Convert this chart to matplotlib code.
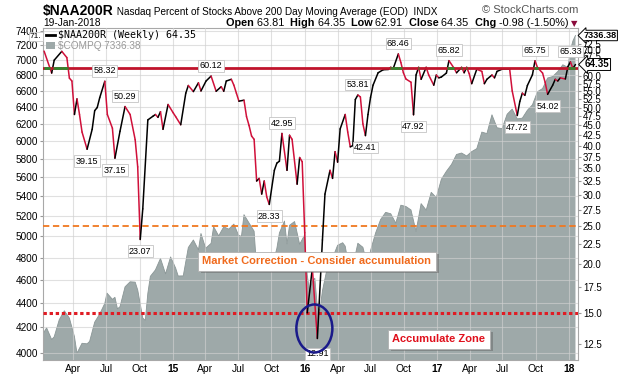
import numpy as np
import pandas as pd
import matplotlib
matplotlib.use('Agg')
import matplotlib.pyplot as plt
import matplotlib.dates as mdates
import matplotlib.patheffects as pe
import matplotlib.transforms as mtransforms
from matplotlib.ticker import FixedLocator, FixedFormatter, NullLocator
from matplotlib.lines import Line2D
from matplotlib.patches import Patch, Ellipse

plt.rcParams['font.family'] = ['Liberation Sans', 'DejaVu Sans']

# $NAA200R weekly closes, week number counted from the first bar (10-Jan-2014)
naa_start = '2014-01-10'
naa_week = [0, 3, 4, 7, 9, 10, 11, 12, 13, 14, 15, 17, 19, 20, 21, 22, 24, 25, 27, 28,
            30, 32, 34, 36, 37, 38, 39, 41, 43, 44, 45, 46, 47, 49, 51, 52, 54, 56, 57, 59,
            61, 62, 64, 66, 68, 70, 71, 72, 74, 75, 76, 77, 79, 80, 81, 82, 83, 84, 85, 86,
            87, 88, 89, 91, 92, 93, 94, 96, 97, 98, 100, 101, 102, 103, 104, 106, 108, 110, 111, 113,
            114, 115, 116, 117, 119, 120, 121, 122, 123, 124, 125, 126, 127, 128, 129, 130, 132, 134, 136, 137,
            138, 140, 141, 142, 143, 145, 146, 147, 148, 149, 151, 152, 154, 155, 156, 157, 159, 160, 162, 163,
            165, 166, 167, 168, 169, 171, 173, 174, 175, 177, 178, 179, 181, 184, 185, 187, 188, 189, 190, 191,
            193, 194, 195, 197, 198, 199, 201, 202, 203, 204, 206, 207, 208, 209, 210]
naa_value = [69.6, 61.2, 66.0, 69.5, 67.0, 59.4, 58.4, 48.0, 52.6, 48.0, 43.3, 39.15, 44.0, 49.1, 50.0, 53.0, 58.32, 48.0, 44.3, 37.15,
             43.5, 50.29, 48.0, 41.4, 35.3, 23.07, 27.6, 46.5, 47.5, 48.0, 47.2, 48.8, 44.0, 50.9, 48.5, 47.4, 45.2, 54.4, 56.9, 54.9,
             57.8, 55.1, 58.4, 60.12, 55.0, 56.5, 55.0, 58.4, 59.0, 57.0, 54.4, 51.9, 52.2, 47.4, 45.0, 42.3, 41.5, 32.5, 33.0, 30.1,
             32.5, 29.6, 28.33, 34.6, 36.1, 36.5, 42.95, 34.6, 42.5, 41.5, 31.9, 37.3, 36.4, 24.0, 15.0, 19.5, 12.91, 23.0, 30.1, 34.6,
             33.0, 38.6, 36.3, 44.1, 48.0, 43.3, 39.7, 40.0, 52.4, 53.81, 53.2, 45.4, 42.41, 48.0, 53.0, 57.0, 61.3, 62.4, 62.5, 63.3,
             62.9, 68.46, 65.1, 61.3, 59.1, 58.0, 47.92, 60.5, 63.3, 59.0, 63.3, 60.5, 57.0, 60.5, 59.5, 59.8, 61.2, 65.82, 63.0, 61.3,
             63.3, 61.3, 63.3, 61.0, 57.5, 62.6, 61.8, 57.5, 59.0, 60.5, 59.5, 61.8, 62.6, 62.6, 55.1, 47.72, 51.8, 54.4, 53.7, 56.9,
             60.6, 65.75, 63.2, 61.2, 58.0, 54.02, 57.0, 59.0, 58.4, 59.5, 59.1, 63.5, 65.33, 62.9, 64.35]

# swing highs / lows that carry a value tag
tagged_values = [58.32, 39.15, 37.15, 50.29, 23.07, 60.12, 42.95, 28.33, 12.91,
                 53.81, 42.41, 68.46, 47.92, 65.82, 47.72, 65.75, 54.02, 65.33]

# $COMPQ (Nasdaq Composite) closes
compq_date = ['2014-01-03', '2014-01-17', '2014-01-31', '2014-02-07', '2014-02-21', '2014-03-07', '2014-03-21',
              '2014-04-04', '2014-04-11', '2014-04-25', '2014-05-09', '2014-05-16', '2014-05-30', '2014-06-13',
              '2014-06-27', '2014-07-03', '2014-07-18', '2014-07-25', '2014-08-01', '2014-08-08', '2014-08-22',
              '2014-09-05', '2014-09-19', '2014-09-26', '2014-10-10', '2014-10-17', '2014-10-24', '2014-10-31',
              '2014-11-14', '2014-11-28', '2014-12-12', '2014-12-26',
              '2015-01-09', '2015-01-16', '2015-01-30', '2015-02-13', '2015-02-27', '2015-03-13', '2015-03-20',
              '2015-04-02', '2015-04-17', '2015-04-24', '2015-05-08', '2015-05-22', '2015-06-05', '2015-06-19',
              '2015-07-02', '2015-07-10', '2015-07-17', '2015-07-31', '2015-08-14', '2015-08-21', '2015-08-28',
              '2015-09-04', '2015-09-18', '2015-09-25', '2015-10-02', '2015-10-16', '2015-10-23', '2015-11-06',
              '2015-11-13', '2015-11-20', '2015-12-04', '2015-12-18', '2015-12-31',
              '2016-01-08', '2016-01-15', '2016-01-22', '2016-01-29', '2016-02-05', '2016-02-12', '2016-02-19',
              '2016-03-04', '2016-03-18', '2016-04-01', '2016-04-15', '2016-04-22', '2016-04-29', '2016-05-13',
              '2016-05-27', '2016-06-10', '2016-06-24', '2016-07-01', '2016-07-15', '2016-07-29', '2016-08-12',
              '2016-08-26', '2016-09-09', '2016-09-23', '2016-10-07', '2016-10-21', '2016-11-04', '2016-11-18',
              '2016-12-02', '2016-12-16', '2016-12-30',
              '2017-01-13', '2017-01-27', '2017-02-10', '2017-02-24', '2017-03-10', '2017-03-24', '2017-04-07',
              '2017-04-21', '2017-05-05', '2017-05-19', '2017-06-02', '2017-06-16', '2017-06-30', '2017-07-14',
              '2017-07-28', '2017-08-11', '2017-08-25', '2017-09-08', '2017-09-22', '2017-10-06', '2017-10-20',
              '2017-11-03', '2017-11-17', '2017-12-01', '2017-12-15', '2017-12-29',
              '2018-01-05', '2018-01-12', '2018-01-19']
compq_value = [4131, 4197, 4104, 4126, 4263, 4336, 4276,
               4127, 3999, 4075, 4071, 4090, 4243, 4310,
               4398, 4485, 4432, 4449, 4352, 4370, 4539,
               4583, 4580, 4512, 4276, 4258, 4483, 4631,
               4688, 4792, 4653, 4806,
               4704, 4634, 4635, 4893, 4964, 4871, 5026,
               4886, 4932, 5092, 5003, 5090, 5068, 5117,
               5009, 4998, 5210, 5128, 5048, 4706, 4828,
               4683, 4827, 4686, 4707, 4886, 5031, 5147,
               4927, 5105, 5142, 4923, 5007,
               4643, 4488, 4591, 4614, 4363, 4338, 4504,
               4717, 4796, 4914, 4938, 4906, 4775, 4718,
               4933, 4895, 4708, 4863, 5030, 5162, 5233,
               5219, 5126, 5305, 5292, 5257, 5046, 5321,
               5255, 5437, 5383,
               5574, 5660, 5734, 5845, 5861, 5828, 5877,
               5910, 6100, 6083, 6305, 6151, 6140, 6312,
               6374, 6256, 6265, 6360, 6426, 6590, 6629,
               6764, 6783, 6848, 6937, 6903,
               7136, 7261, 7336.38]

left_ticks = [4000, 4200, 4400, 4600, 4800, 5000, 5200, 5400, 5600, 5800, 6000,
              6200, 6400, 6600, 6800, 7000, 7200, 7400]
right_ticks = [12.5, 15.0, 17.5, 20.0, 22.5, 25.0, 27.5, 30.0, 32.5, 35.0, 37.5, 40.0,
               42.5, 45.0, 47.5, 50.0, 52.5, 55.0, 57.5, 60.0, 67.5, 70.0, 72.5]

ref_line = 63.0
correction_level = 25.0
accumulate_level = 15.0

bar_open, bar_high, bar_low, bar_close, bar_chg, bar_pct = 63.81, 64.35, 62.91, 64.35, -0.98, -1.50

area_color = '#9ea9a9'
down_color = '#d0103a'

naa_dates = pd.Timestamp(naa_start) + pd.to_timedelta(np.array(naa_week) * 7, unit='D')
compq_dates = pd.to_datetime(compq_date)

fig = plt.figure(figsize=(6.2, 3.76), dpi=100)
ax = fig.add_axes([43 / 620, 16 / 376, 535 / 620, 332 / 376])
ax2 = ax.twinx()

# Nasdaq mountain behind everything
ax.set_yscale('log')
ax.fill_between(compq_dates, 3000, compq_value, color=area_color, lw=0, zorder=1)
ax.plot(compq_dates, compq_value, color='#8a9696', lw=0.6, zorder=1.1)
ax.set_ylim(3947, 7442)
ax.set_xlim(pd.Timestamp('2014-01-07'), pd.Timestamp('2018-01-26'))
ax.yaxis.set_major_locator(FixedLocator(left_ticks))
ax.yaxis.set_major_formatter(FixedFormatter([str(t) for t in left_ticks]))
ax.yaxis.set_minor_locator(NullLocator())
ax.tick_params(axis='y', labelsize=7.2, length=2.5, color='#999999', pad=1)

quarters = pd.date_range('2014-04-01', '2018-01-01', freq='QS')
qlabels = [str(d.year % 100) if d.month == 1 else d.strftime('%b') for d in quarters]
ax.set_xticks(quarters)
ax.set_xticklabels(qlabels)
for lab, d in zip(ax.get_xticklabels(), quarters):
    if d.month == 1:
        lab.set_fontweight('bold')
ax.xaxis.set_minor_locator(NullLocator())
ax.tick_params(axis='x', labelsize=7.4, length=0, pad=3)

ax.grid(True, color='#d0d0d0', alpha=0.65, lw=0.8)
ax.set_axisbelow(False)
for s in ax.spines.values():
    s.set_color('#a8a8a8')
    s.set_linewidth(0.8)

# percent line on its own log scale
ax2.set_yscale('log')
ax2.set_ylim(11.38, 79.7)
ax2.yaxis.set_major_locator(FixedLocator(right_ticks))
ax2.yaxis.set_major_formatter(FixedFormatter([f'{t:.1f}' for t in right_ticks]))
ax2.yaxis.set_minor_locator(NullLocator())
ax2.tick_params(axis='y', labelsize=7.0, length=2.5, color='#999999', pad=1)
for s in ax2.spines.values():
    s.set_visible(False)

for i in range(len(naa_value) - 1):
    c = down_color if naa_value[i + 1] < naa_value[i] else 'black'
    ax2.plot(naa_dates[i:i + 2], naa_value[i:i + 2], color=c, lw=1.1, zorder=3,
             solid_capstyle='round')

ax2.axhline(correction_level, color='#f07820', lw=1.3, ls=(0, (3.5, 2)), zorder=2.5)
ax2.axhline(accumulate_level, color='#e01c24', lw=2.2, ls=(0, (1.1, 0.9)), zorder=2.5)

ax2.axhline(ref_line, color='#c0142c', lw=2.0, zorder=4)
tnum = mdates.date2num(naa_dates)
for i in range(len(naa_value) - 1):
    v0, v1 = naa_value[i], naa_value[i + 1]
    t0, t1 = tnum[i], tnum[i + 1]
    if v0 <= ref_line and v1 <= ref_line:
        continue
    a, b = t0, t1
    if v0 <= ref_line:
        a = t0 + (ref_line - v0) / (v1 - v0) * (t1 - t0)
    if v1 <= ref_line:
        b = t0 + (ref_line - v0) / (v1 - v0) * (t1 - t0)
    ax2.plot([a, b], [ref_line, ref_line], color='#2e8a2e', lw=2.0, zorder=4.1,
             solid_capstyle='butt')

# value tags on swing points
for val in tagged_values:
    i = naa_value.index(val)
    nb = [naa_value[j] for j in (i - 1, i + 1) if 0 <= j < len(naa_value)]
    above = val >= max(nb)
    off = 7.5 if above else -8.5
    if val == min(naa_value):
        off = -11
    ax2.annotate(f'{val:.2f}', xy=(naa_dates[i], val), xytext=(0, off),
                 textcoords='offset points', ha='center', va='center', fontsize=6.5,
                 bbox=dict(boxstyle='square,pad=0.15', fc='white', ec='#c4c4c4', lw=0.6),
                 zorder=6)

# last values at right edge
ax2.annotate(f'{naa_value[-1]:.2f}', xy=(1, naa_value[-1]), xycoords=('axes fraction', 'data'),
             xytext=(5, 0), textcoords='offset points', ha='left', va='center',
             fontsize=7, fontweight='bold',
             bbox=dict(boxstyle='larrow,pad=0.1', fc='white', ec='black', lw=0.7), zorder=8,
             annotation_clip=False)
ax.annotate(f'{compq_value[-1]:.2f}', xy=(1, compq_value[-1]), xycoords=('axes fraction', 'data'),
            xytext=(4, 0), textcoords='offset points', ha='left', va='center',
            fontsize=6.6, fontweight='bold',
            bbox=dict(boxstyle='larrow,pad=0.08', fc='white', ec='black', lw=0.7), zorder=8,
            annotation_clip=False)

handles = [Line2D([], [], color='black', lw=2), Patch(fc=area_color, ec='none')]
leg = ax2.legend(handles, [f'$NAA200R (Weekly) {naa_value[-1]:.2f}', f'$COMPQ {compq_value[-1]:.2f}'],
                 loc='upper left', bbox_to_anchor=(0.0, 1.0), frameon=False,
                 prop={'family': 'DejaVu Sans Mono', 'size': 7.2}, handlelength=0.9,
                 handletextpad=0.3, labelspacing=0.05, borderaxespad=0.15, borderpad=0.1)
leg.get_texts()[1].set_color('#999999')
leg.get_texts()[1].set_fontfamily('Liberation Sans')

# notes
t1 = ax2.text(0.512, 0.298, 'Market Correction - Consider accumulation', transform=ax2.transAxes,
              ha='center', va='center', fontsize=8, fontweight='bold', color='#f06a1c',
              bbox=dict(boxstyle='square,pad=0.4', fc='white', ec='#b0b0b0', lw=0.6), zorder=7)
t2 = ax2.text(0.740, 0.063, 'Accumulate Zone', transform=ax2.transAxes,
              ha='center', va='center', fontsize=8, fontweight='bold', color='#e0101c',
              bbox=dict(boxstyle='square,pad=0.4', fc='white', ec='#b0b0b0', lw=0.6), zorder=7)
for t in (t1, t2):
    t.get_bbox_patch().set_path_effects([pe.withSimplePatchShadow(offset=(2, -2),
                                         shadow_rgbFace='#666666', alpha=0.5)])

# ring around the low
low_i = int(np.argmin(naa_value))
px, py = ax2.transData.transform((tnum[low_i], naa_value[low_i]))
ring = Ellipse((px - 3, py + 10), 36, 48, fill=False, ec='#1a1a8a', lw=1.8,
               transform=mtransforms.IdentityTransform(), zorder=9)
fig.add_artist(ring)

# header rows
renderer = fig.canvas.get_renderer()


def row(x_px, y_px, pieces):
    x = x_px
    for txt, kw in pieces:
        t = fig.text(x / 620, 1 - y_px / 376, txt, va='baseline', ha='left', **kw)
        x += t.get_window_extent(renderer).width
    return x


row(43, 15, [('$NAA200R', dict(fontsize=10, fontweight='bold')),
             (' Nasdaq Percent of Stocks Above 200 Day Moving Average (EOD)  INDX', dict(fontsize=7.2))])
fig.text(578 / 620, 1 - 13 / 376, '\u00a9 StockCharts.com', ha='right', va='baseline',
         fontsize=8, color='#555555')
fig.text(43 / 620, 1 - 26.5 / 376, '19-Jan-2018', ha='left', va='baseline', fontsize=7.4)
b = dict(fontsize=7.8, fontweight='bold')
r = dict(fontsize=7.8)
row(226, 26.5, [('Open ', b), (f'{bar_open:.2f}  ', r), ('High ', b), (f'{bar_high:.2f}  ', r),
                ('Low ', b), (f'{bar_low:.2f}  ', r), ('Close ', b), (f'{bar_close:.2f}  ', r),
                ('Chg ', b), (f'{bar_chg:.2f} ({bar_pct:.2f}%) ', r),
                ('\u25bc', dict(fontsize=6, color='#8a0a3a', family='DejaVu Sans'))])

fig.text(30 / 620, 1 - 38 / 376, '71.', fontsize=6, ha='left', va='baseline',
         bbox=dict(boxstyle='square,pad=0.1', fc='white', ec='#c0c0c0', lw=0.5))

fig.savefig('out.png', dpi=100)
